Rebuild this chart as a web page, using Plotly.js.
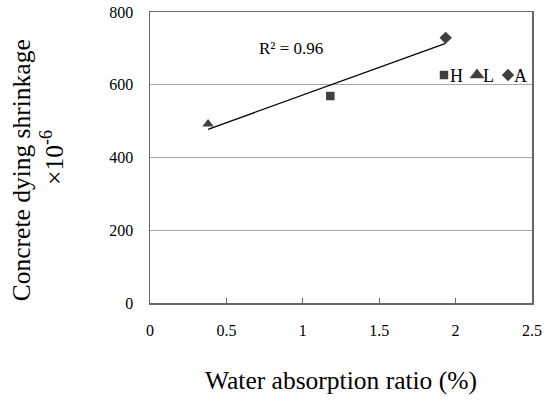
<!DOCTYPE html>
<html><head><meta charset="utf-8">
<script src="https://cdn.plot.ly/plotly-3.0.1.min.js"></script>
<style>html,body{margin:0;padding:0;background:#fff}</style>
</head><body><div id="chart" style="width:544px;height:407px"></div>
<script>
const seriesNames = ["H", "L", "A"];
const seriesX = [[1.18], [0.38], [1.935]];
const seriesY = [[569], [492], [729]];
const seriesSymbols = ["square", "triangle-up", "diamond"];
const seriesSizes = [8.5, 10, 9.5];
const xTicks = [0, 0.5, 1, 1.5, 2, 2.5];
const yTicks = [0, 200, 400, 600, 800];
const r2Label = "R² = 0.96";

// linear least-squares trend over all points
const allX = seriesX.flat(), allY = seriesY.flat();
const n = allX.length;
const mx = allX.reduce((a,b)=>a+b,0)/n, my = allY.reduce((a,b)=>a+b,0)/n;
let sxx=0, sxy=0;
for (let i=0;i<n;i++){ sxx+=(allX[i]-mx)**2; sxy+=(allX[i]-mx)*(allY[i]-my); }
const slope = sxy/sxx, icpt = my - slope*mx;
const tx = [Math.min(...allX), Math.max(...allX)];
const ty = tx.map(v=>icpt+slope*v);

const font = "Liberation Serif, Times New Roman, serif";
const traces = [{
  x: tx, y: ty, mode: "lines", line: {color: "#000", width: 1.2},
  showlegend: false, hoverinfo: "skip"
}];
seriesNames.forEach((nm,i)=>traces.push({
  x: seriesX[i], y: seriesY[i], name: nm, mode: "markers",
  marker: {symbol: seriesSymbols[i], size: seriesSizes[i], color: "#404040"}
}));

const layout = {
  width: 544, height: 407,
  margin: {l: 150, r: 12, t: 12, b: 104},
  paper_bgcolor: "#fff", plot_bgcolor: "#fff",
  font: {family: font, color: "#000", size: 16},
  showlegend: true,
  legend: {orientation: "h", x: 1.0, xanchor: "right", y: 0.78, yanchor: "middle",
    font: {family: font, size: 18}, bgcolor: "rgba(0,0,0,0)", itemwidth: 30,
    traceorder: "normal"},
  xaxis: {range: [0, 2.5], tickvals: xTicks, ticktext: xTicks.map(String),
    showgrid: false, zeroline: false, showline: true, mirror: true,
    linecolor: "#666", linewidth: 1.5, ticks: "inside", ticklen: 5, tickcolor: "#666",
    ticklabelstandoff: 12, tickfont: {family: font, size: 16},
    title: {text: "Water absorption ratio (%)", font: {family: font, size: 25.5}, standoff: 33}},
  yaxis: {range: [0, 800], tickvals: yTicks, ticktext: yTicks.map(String),
    showgrid: true, gridcolor: "#a6a6a6", gridwidth: 1, zeroline: false,
    showline: true, mirror: true, linecolor: "#666", linewidth: 1.5,
    ticks: "", ticklabelstandoff: 12, tickfont: {family: font, size: 16},
    title: {text: "Concrete dying shrinkage\u00A0\u00A0\u00A0\u00A0<br>×10<sup>-6</sup>", font: {family: font, size: 25.5}, standoff: 38}},
  annotations: [{x: 0.92, y: 701, xref: "x", yref: "y", text: r2Label,
    showarrow: false, font: {size: 17, family: font}}]
};
const legendScale = [1, 1.3, 1];
const gd = document.getElementById("chart");
Plotly.newPlot(gd, traces, layout, {displayModeBar: false, staticPlot: true}).then(() => {
  // compact the legend: marker directly followed by its label
  const items = gd.querySelectorAll(".legend .traces");
  let cur = 0, itemY = 0;
  items.forEach((g, i) => {
    const m = /translate\(([-\d.]+)[ ,]*([-\d.]+)?/.exec(g.getAttribute("transform") || "");
    itemY = m && m[2] ? parseFloat(m[2]) : 0;
    g.querySelectorAll(".legendpoints path").forEach(p => p.setAttribute("transform", `translate(5,0) scale(${legendScale[i] || 1})`));
    const t = g.querySelector(".legendtext");
    t.setAttribute("x", 11);
    const w = t.getBBox().width;
    g.setAttribute("transform", `translate(${cur},${itemY})`);
    cur += 11 + w + 9;
  });
  const leg = gd.querySelector(".legend");
  leg.setAttribute("transform", `translate(439,${75 - itemY})`);
  const sb = leg.querySelector(".scrollbox");
  if (sb) { sb.setAttribute("transform", "translate(0,0)"); sb.removeAttribute("clip-path"); }
  leg.removeAttribute("clip-path");
});
</script></body></html>
